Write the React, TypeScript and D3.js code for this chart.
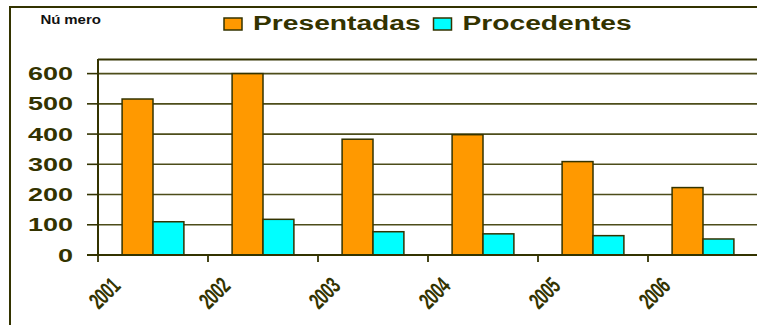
import React from 'react';
import * as d3 from 'd3';

const years = ['2001', '2002', '2003', '2004', '2005', '2006'];
const presentadas = [516, 600, 383, 398, 309, 223];
const procedentes = [110, 118, 77, 70, 64, 53];
const seriesNames = ['Presentadas', 'Procedentes'];
const seriesColors = ['#FF9900', '#00FFFF'];
const yTicks = [0, 100, 200, 300, 400, 500, 600];

const W = 757;
const H = 325;
const ink = '#333300';
const font = 'Arial, "Liberation Sans", Helvetica, sans-serif';

export default function App() {
  const x = d3.scaleBand<string>().domain(years).range([98, 758]).paddingInner(0).paddingOuter(0);
  const x1 = d3.scaleBand<string>().domain(seriesNames).range([0, x.bandwidth()]).paddingInner(0).paddingOuter(0.78);
  const y = d3.scaleLinear().domain([0, 650]).range([255, 58.5]);
  const values = [presentadas, procedentes];

  return (
    <div style={{ position: 'absolute', left: 0, top: 0, width: W, height: H, background: '#fff' }}>
      <svg width={W} height={H} style={{ display: 'block' }}>
        <rect x={0} y={0} width={W} height={H} fill="#fff" />
        {/* outer frame */}
        <rect x={10} y={7} width={W + 20} height={H + 20} fill="none" stroke={ink} strokeWidth={2} />
        {/* title */}
        <text transform={`translate(40.5,23.5) scale(1.25,1)`} fontFamily={font} fontWeight="bold" fontSize={12} fill="#111">
          <tspan>Nú</tspan>
          <tspan dx={3}>mero</tspan>
        </text>
        {/* legend */}
        {seriesNames.map((s, i) => {
          const lx = i === 0 ? 224 : 433.5;
          return (
            <g key={s}>
              <rect x={lx} y={18} width={18} height={12} fill={seriesColors[i]} stroke={ink} strokeWidth={1.5} />
              <text transform={`translate(${lx + 29},29.5) scale(1.41,1)`} fontFamily={font} fontWeight="bold" fontSize={20} fill={ink}>
                {s}
              </text>
            </g>
          );
        })}
        {/* plot area top border */}
        <line x1={98} x2={W + 10} y1={59.5} y2={59.5} stroke={ink} strokeWidth={2} />
        {/* gridlines and y ticks */}
        {yTicks.map((t) => (
          <g key={t}>
            {t > 0 && <line x1={98} x2={W + 10} y1={y(t)} y2={y(t)} stroke="#4d4d1a" strokeWidth={1.6} />}
            <line x1={87} x2={98} y1={y(t)} y2={y(t)} stroke={ink} strokeWidth={1.6} />
            <text
              transform={`translate(73,${y(t) + 6.5}) scale(1.5,1)`}
              textAnchor="end"
              fontFamily={font}
              fontWeight="bold"
              fontSize={18}
              fill={ink}
            >
              {t}
            </text>
          </g>
        ))}
        {/* bars */}
        {years.map((yr, i) => (
          <g key={yr}>
            {seriesNames.map((s, j) => {
              const v = values[j][i];
              const bx = (x(yr) as number) + (x1(s) as number);
              return (
                <rect
                  key={s}
                  x={bx}
                  y={y(v)}
                  width={x1.bandwidth()}
                  height={y(0) - y(v)}
                  fill={seriesColors[j]}
                  stroke={ink}
                  strokeWidth={1.5}
                />
              );
            })}
          </g>
        ))}
        {/* y axis */}
        <line x1={98} x2={98} y1={59} y2={256} stroke={ink} strokeWidth={2} />
        {/* x axis */}
        <line x1={87} x2={W + 10} y1={255} y2={255} stroke={ink} strokeWidth={2.2} />
        {years.map((yr) => {
          const tx = x(yr) as number;
          return (
            <g key={yr}>
              <line x1={tx} x2={tx} y1={255} y2={262} stroke={ink} strokeWidth={1.8} />
              <text
                transform={`translate(${tx + 23.5},287.5) rotate(-45) scale(0.85,1.3)`}
                textAnchor="end"
                fontFamily={font}
                fontWeight="bold"
                fontSize={18}
                letterSpacing={-0.5}
                fill={ink}
              >
                {yr}
              </text>
            </g>
          );
        })}
      </svg>
    </div>
  );
}
